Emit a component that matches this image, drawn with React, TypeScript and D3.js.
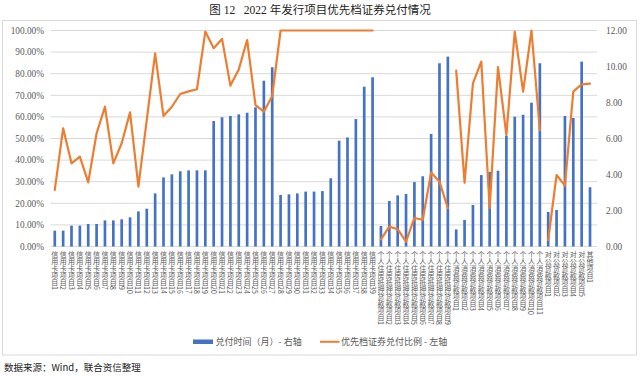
import React from "react";
import * as d3 from "d3";

const groupPrefixes = ["信用卡项目", "个人住房抵押贷款项目", "个人消费贷款项目", "对公贷款项目", "其他项目"];
const groupCounts = [39, 9, 11, 5, 1];

const months = [
  0.88, 0.88, 1.16, 1.16, 1.25, 1.25, 1.45, 1.45, 1.51, 1.62,
  1.95, 2.1, 2.95, 3.84, 4.01, 4.18, 4.23, 4.23, 4.23, 6.97,
  7.18, 7.25, 7.34, 7.43, 7.73, 9.21, 9.96, 2.86, 2.9, 2.95,
  3.05, 3.05, 3.08, 3.79, 5.88, 6.06, 7.08, 8.88, 9.4,
  1.14, 2.53, 2.84, 2.92, 3.58, 3.9, 6.25, 10.18, 10.55,
  0.95, 1.47, 2.31, 3.97, 4.14, 4.21, 6.14, 7.21, 7.32, 7.99, 10.18,
  1.92, 2.03, 7.25, 7.14, 10.27,
  3.29,
];

const ratios = [
  0.262, 0.547, 0.385, 0.416, 0.297, 0.524, 0.647, 0.385, 0.478, 0.621,
  0.277, 0.586, 0.894, 0.604, 0.647, 0.706, 0.718, 0.728, 0.995, 0.918,
  0.961, 0.745, 0.82, 0.956, 0.655, 0.624, 0.697, 1, 1, 1,
  1, 1, 1, 1, 1, 1, 1, 1, 1,
  0.033, 0.092, 0.08, 0.022, 0.132, 0.124, 0.343, 0.3, 0.177,
  0.814, 0.295, 0.755, 0.856, 0.177, 0.83, 0.516, 0.995, 0.717, 1.0, 0.539,
  0.03, 0.331, 0.282, 0.717, 0.751,
  0.754,
];

// index ranges of the separate line segments
const lineSegments: [number, number][] = [
  [0, 38],
  [39, 47],
  [48, 58],
  [59, 64],
];

const leftTicks = [0, 0.1, 0.2, 0.3, 0.4, 0.5, 0.6, 0.7, 0.8, 0.9, 1.0];
const rightTicks = [0, 2, 4, 6, 8, 10, 12];

const title = "图 12\u00a0\u00a0\u00a02022 年发行项目优先档证券兑付情况";
const legendBar = "兑付时间（月）- 右轴";
const legendLine = "优先档证券兑付比例 - 左轴";
const source = "数据来源：Wind，联合资信整理";

const categories: string[] = [];
groupPrefixes.forEach((p, gi) => {
  for (let i = 1; i <= groupCounts[gi]; i++) categories.push(p + i);
});

const BLUE = "#4472C4";
const ORANGE = "#ED7D31";
const GRID = "#D9D9D9";
const TXT = "#595959";

export default function App() {
  const W = 640;
  const H = 376;
  const left = 50.6;
  const right = 594.2;
  const top = 30.5;
  const bottom = 246.5;

  const x = d3
    .scaleBand<number>()
    .domain(categories.map((_, i) => i))
    .range([left, right])
    .paddingInner(0.68)
    .paddingOuter(0.34);
  const yL = d3.scaleLinear().domain([0, 1]).range([bottom, top]);
  const yR = d3.scaleLinear().domain([0, 12]).range([bottom, top]);
  const cx = (i: number) => (x(i) as number) + x.bandwidth() / 2;

  const line = d3
    .line<number>()
    .x((i) => cx(i))
    .y((i) => yL(ratios[i]));

  const fmtPct = d3.format(".2%");
  const fmtNum = d3.format(".2f");

  return (
    <svg
      width={W}
      height={H}
      style={{ position: "absolute", left: 0, top: 0, background: "#fff" }}
      fontFamily="'Liberation Serif', 'Noto Sans CJK SC', serif"
    >
      <rect x={0} y={0} width={W} height={H} fill="#fff" />
      <text
        x={320}
        y={14}
        textAnchor="middle"
        fontSize={11.5}
        fill="#222"
        fontFamily="'Liberation Serif', 'Noto Sans CJK SC', serif"
      >
        {title}
      </text>
      <rect x={2.5} y={20.5} width={634} height={334.5} fill="none" stroke={GRID} strokeWidth={1} />

      {leftTicks.map((t) => (
        <g key={"l" + t}>
          <line x1={left} x2={right + 3} y1={yL(t)} y2={yL(t)} stroke={GRID} strokeWidth={1} />
          <text x={44} y={yL(t)} dy="0.35em" textAnchor="end" fontSize={9.3} fill={TXT}>
            {fmtPct(t)}
          </text>
        </g>
      ))}
      {rightTicks.map((t) => (
        <text key={"r" + t} x={606} y={yR(t)} dy="0.35em" textAnchor="start" fontSize={9.3} fill={TXT}>
          {fmtNum(t)}
        </text>
      ))}

      {months.map((m, i) => (
        <rect
          key={"b" + i}
          x={x(i)}
          y={yR(m)}
          width={x.bandwidth()}
          height={yR(0) - yR(m)}
          fill={BLUE}
        />
      ))}

      {lineSegments.map(([a, b], k) => (
        <path
          key={"s" + k}
          d={line(d3.range(a, b + 1)) || ""}
          fill="none"
          stroke={ORANGE}
          strokeWidth={2.2}
          strokeLinejoin="round"
          strokeLinecap="round"
        />
      ))}

      {categories.map((c, i) => (
        <text
          key={"c" + i}
          x={cx(i)}
          y={251}
          fontSize={7}
          fill={TXT}
          style={{ writingMode: "vertical-rl" as any }}
          fontFamily="'Noto Sans CJK SC', sans-serif"
        >
          {c}
        </text>
      ))}

      <rect x={193} y={339.5} width={20} height={4.5} fill={BLUE} />
      <text x={215.5} y={341.8} dy="0.35em" fontSize={9} fill={TXT} fontFamily="'Noto Sans CJK SC', sans-serif">
        {legendBar}
      </text>
      <line x1={320} x2={339.5} y1={341.8} y2={341.8} stroke={ORANGE} strokeWidth={2} />
      <text x={341} y={341.8} dy="0.35em" fontSize={9} fill={TXT} fontFamily="'Noto Sans CJK SC', sans-serif">
        {legendLine}
      </text>

      <text x={4} y={371} fontSize={9.5} fill="#222" fontFamily="'Noto Sans CJK SC', sans-serif">
        {source}
      </text>
    </svg>
  );
}
